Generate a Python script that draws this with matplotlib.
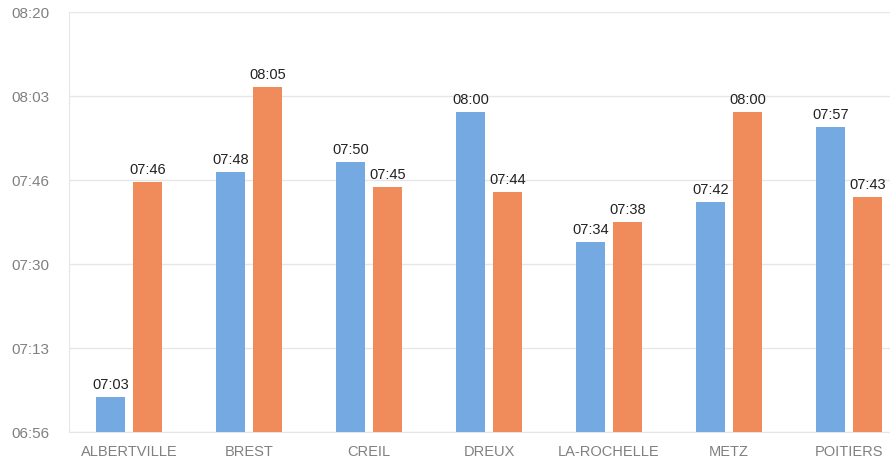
import numpy as np
from matplotlib import pyplot as plt

villes = ['ALBERTVILLE', 'BREST', 'CREIL', 'DREUX', 'LA-ROCHELLE', 'METZ', 'POITIERS']
serie1 = ['07:03', '07:48', '07:50', '08:00', '07:34', '07:42', '07:57']
serie2 = ['07:46', '08:05', '07:45', '07:44', '07:38', '08:00', '07:43']
ticks = ['06:56', '07:13', '07:30', '07:46', '08:03', '08:20']


def to_min(s):
    h, m = s.split(':')
    return int(h) * 60 + int(m)


def fmt(v):
    v = int(round(v))
    return '%02d:%02d' % (v // 60, v % 60)


v1 = np.array([to_min(s) for s in serie1])
v2 = np.array([to_min(s) for s in serie2])
ymin, ymax = to_min(ticks[0]), to_min(ticks[-1])

plt.rcParams['font.family'] = ['Liberation Sans', 'DejaVu Sans']

fig = plt.figure(figsize=(8.9, 4.62), dpi=100)
ax = fig.add_axes([69 / 890, 30 / 462, 840 / 890, 420 / 462])

x = np.arange(len(villes))
w = 0.242
off = 0.154
b1 = ax.bar(x - off, v1 - ymin, w, bottom=ymin, color='#74A9E1', zorder=3)
b2 = ax.bar(x + off, v2 - ymin, w, bottom=ymin, color='#F08B5B', zorder=3)

for bars, vals in ((b1, v1), (b2, v2)):
    for r, v in zip(bars, vals):
        ax.annotate(fmt(v), (r.get_x() + r.get_width() / 2, v), xytext=(0, 3.5),
                    textcoords='offset points', ha='center', va='bottom',
                    fontsize=10.5, color='#222222')

ax.set_xlim(-0.5, len(villes) - 0.5)
ax.set_ylim(ymin, ymax)
yt = np.linspace(ymin, ymax, len(ticks))
ax.set_yticks(yt)
ax.set_yticklabels([fmt(t) for t in yt])
ax.set_xticks(x)
ax.set_xticklabels(villes)
ax.tick_params(axis='y', length=0, pad=14, labelsize=11, labelcolor='#808080')
ax.tick_params(axis='x', length=0, pad=9, labelsize=10.5, labelcolor='#808080')

ax.grid(axis='y', color='#e6e6e6', linewidth=1, zorder=0)
ax.set_axisbelow(True)
for s in ['top', 'right']:
    ax.spines[s].set_visible(False)
ax.spines['left'].set_color('#e6e6e6')
ax.spines['bottom'].set_color('#e6e6e6')

plt.savefig('out.png', dpi=100)
